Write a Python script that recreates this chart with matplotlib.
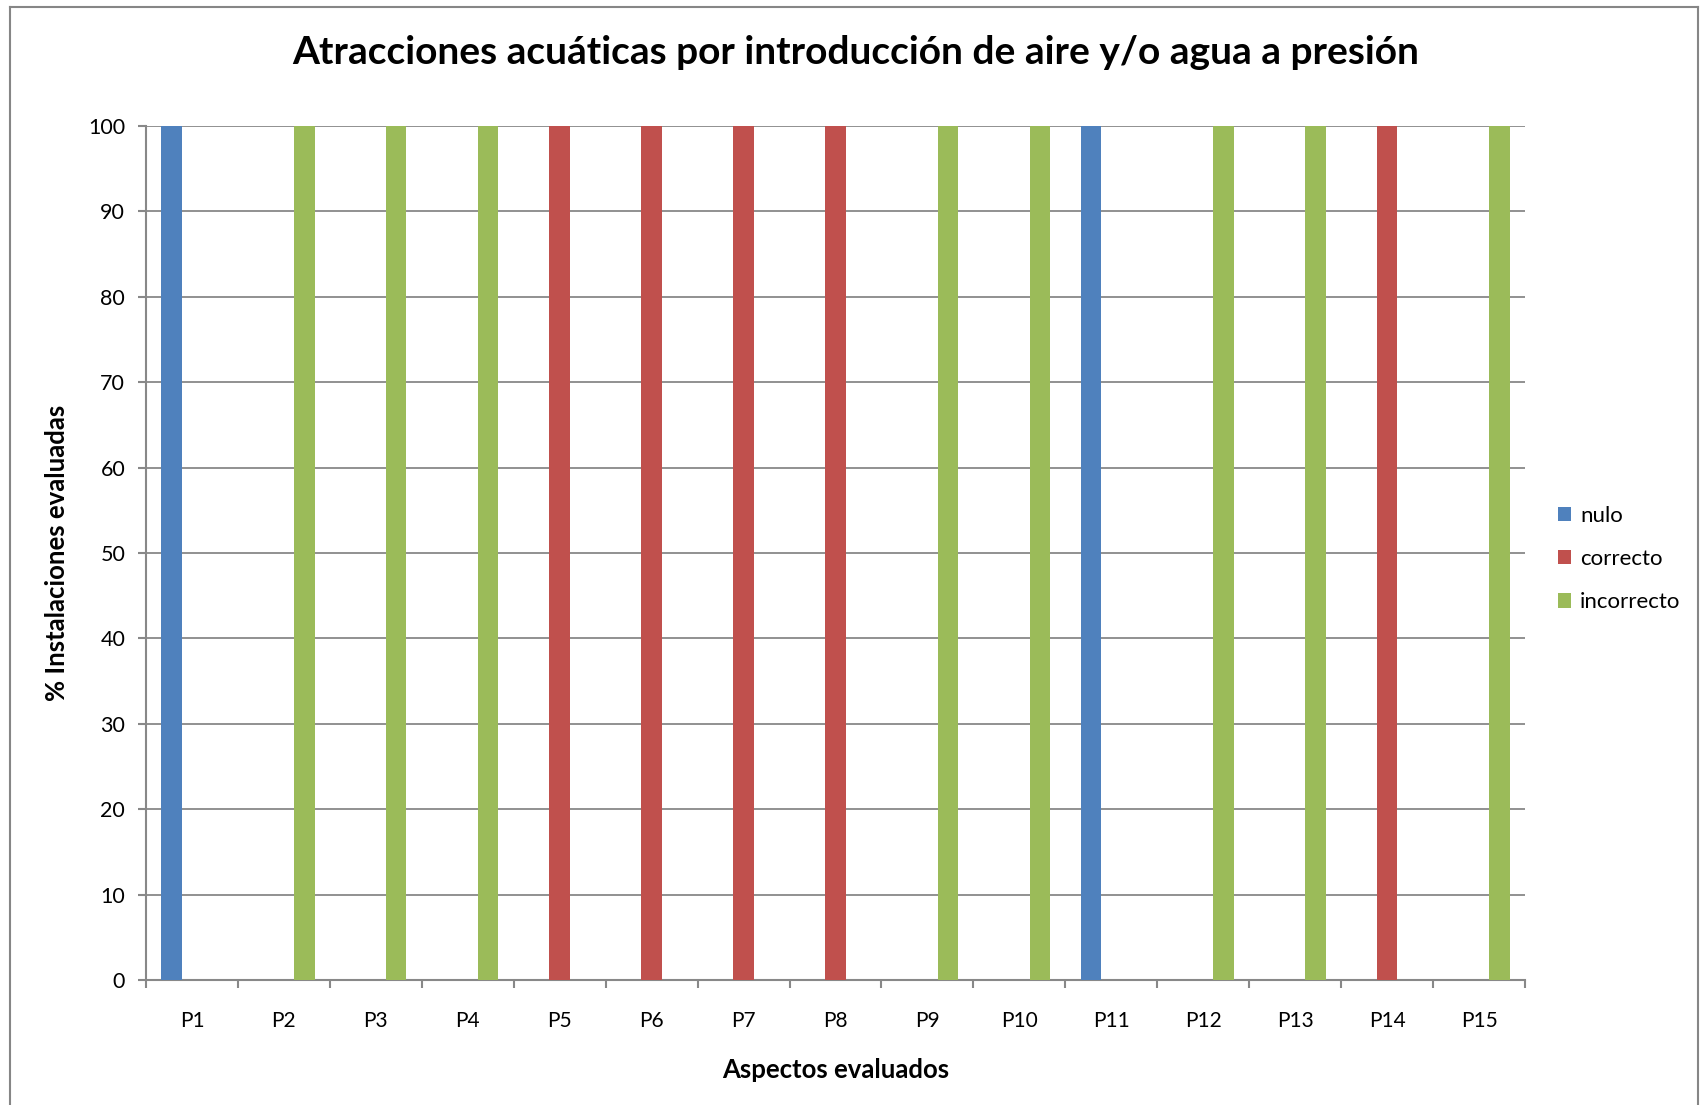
import matplotlib
matplotlib.use("Agg")
import matplotlib.pyplot as plt
from matplotlib.lines import Line2D
from matplotlib.patches import Patch
import numpy as np

plt.rcParams['font.family'] = ['Lato', 'DejaVu Sans']

categories = ["P1", "P2", "P3", "P4", "P5", "P6", "P7", "P8", "P9", "P10",
              "P11", "P12", "P13", "P14", "P15"]
nulo =       [100, 0, 0, 0, 0, 0, 0, 0, 0, 0, 100, 0, 0, 0, 0]
correcto =   [0, 0, 0, 0, 100, 100, 100, 100, 0, 0, 0, 0, 0, 100, 0]
incorrecto = [0, 100, 100, 100, 0, 0, 0, 0, 100, 100, 0, 100, 100, 0, 100]
series_names = ["nulo", "correcto", "incorrecto"]
colors = ["#4F81BD", "#C0504D", "#9BBB59"]
yticks = list(range(0, 101, 10))

W, H = 1701, 1105
fig = plt.figure(figsize=(W / 100, H / 100), dpi=100)
ax = fig.add_axes([146 / W, 1 - 980 / H, (1525 - 146) / W, (980 - 126) / H])

x = np.arange(len(categories))
bw = 1 / 4.5
for k, (vals, c) in enumerate(zip([nulo, correcto, incorrecto], colors)):
    ax.bar(x + (k - 1) * bw, vals, width=bw, color=c, linewidth=0, zorder=3)

grid_c = "#888888"
ax.set_xlim(-0.5, len(categories) - 0.5)
ax.set_ylim(0, 100)
ax.set_yticks(yticks)
ax.yaxis.grid(True, color=grid_c, linewidth=1.3, zorder=1)
ax.set_axisbelow(True)
for s in ["top", "right"]:
    ax.spines[s].set_visible(False)
for s in ["left", "bottom"]:
    ax.spines[s].set_color(grid_c)
    ax.spines[s].set_linewidth(1.5)

ax.set_xticks(x)
ax.set_xticklabels(categories, fontsize=15)
ax.set_xticks(np.arange(-0.5, len(categories)), minor=True)
ax.tick_params(axis='x', which='major', length=0, pad=22)
ax.tick_params(axis='x', which='minor', length=6, width=1.5, color=grid_c, direction='out')
ax.tick_params(axis='y', length=6, width=1.5, color=grid_c, labelsize=15.5, pad=9)

ax.set_xlabel("Aspectos evaluados", fontsize=18.5, fontweight='bold', labelpad=20)
ax.set_ylabel("% Instalaciones evaluadas", fontsize=18.5, fontweight='bold', labelpad=14)

fig.text(0.5 * (295 + 1416) / W, 1 - 53 / H,
         "Atracciones acuáticas por introducción de aire y/o agua a presión",
         ha='center', va='center', fontsize=28, fontweight='bold')

handles = [Patch(facecolor=c, edgecolor='none') for c in colors]
leg = fig.legend(handles, series_names, loc='center left',
                 bbox_to_anchor=(1558 / W, 1 - 559 / H), frameon=False,
                 fontsize=16, handlelength=0.6, handleheight=0.6,
                 handletextpad=0.4, labelspacing=1.05, borderaxespad=0,
                 borderpad=0)

# chart-area border
border_c = "#868686"
fig.add_artist(Line2D([10 / W, 10 / W], [0, 1 - 7 / H], transform=fig.transFigure, color=border_c, lw=1.5))
fig.add_artist(Line2D([10 / W, 1698 / W], [1 - 7 / H, 1 - 7 / H], transform=fig.transFigure, color=border_c, lw=1.5))
fig.add_artist(Line2D([1698 / W, 1698 / W], [0, 1 - 7 / H], transform=fig.transFigure, color=border_c, lw=1.5))

fig.savefig("out.png", dpi=100, facecolor='white')
